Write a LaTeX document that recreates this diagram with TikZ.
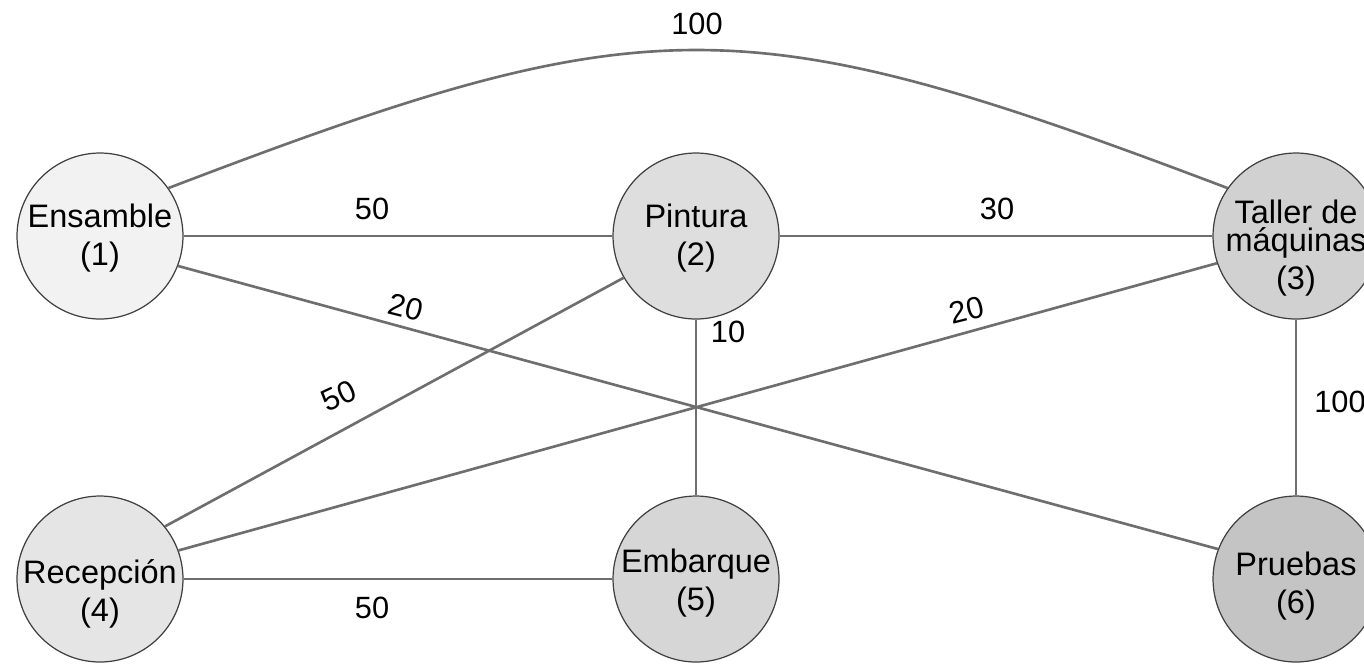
\documentclass[tikz,border=0pt]{standalone}
\usepackage{fontspec}
\setmainfont{Liberation Sans}
\begin{document}
\begin{tikzpicture}[x=0.02cm,y=-0.02cm,
  station/.style={circle, draw=black!75, line width=0.7pt, minimum size=3.32cm, inner sep=0pt},
  stname/.style={align=center, font=\fontsize{18.5}{22}\selectfont, inner sep=0pt},
  flow/.style={draw=black!57, line width=1.5pt},
  qty/.style={font=\fontsize{17.5}{20}\selectfont, inner sep=0pt}]
\useasboundingbox (0,0) rectangle (1364,664);

% departments
\node[station, fill=black!5]  (n1) at (100,236) {};
\node[station, fill=black!13] (n2) at (696,236) {};
\node[station, fill=black!18] (n3) at (1296,236) {};
\node[station, fill=black!10] (n4) at (100,579) {};
\node[station, fill=black!16] (n5) at (696,579) {};
\node[station, fill=black!23] (n6) at (1296,579) {};

% flows between departments
\draw[flow] (n1.35) .. controls (650,4) and (742,4) .. (n3.145);
\draw[flow] (n1.east) -- (n2.west);
\draw[flow] (n2.east) -- (n3.west);
\draw[flow] (n1.-21) -- (n6.159);
\draw[flow] (n4.39) -- (n2.210);
\draw[flow] (n4.20) -- (n3.199);
\draw[flow] (n2.south) -- (n5.north);
\draw[flow] (n3.south) -- (n6.north);
\draw[flow] (n4.east) -- (n5.west);

% department names
\node[stname] (t1) at (100,238) {Ensamble\\(1)};
\node[stname] (t2) at (696,238) {Pintura\\(2)};
\node[stname] (t3) at (1296,248) {Taller de\\[-6pt]máquinas\\(3)};
\node[stname] (t4) at (100,594) {Recepción\\(4)};
\node[stname] (t5) at (696,583) {Embarque\\(5)};
\node[stname] (t6) at (1296,586) {Pruebas\\(6)};

% flow quantities
\node[qty] (w13) at (697,24) {100};
\node[qty] (w12) at (372,209) {50};
\node[qty] (w23) at (997,209) {30};
\node[qty, rotate=-14] (w16) at (406,307) {20};
\node[qty, rotate=14] (w43) at (967,310) {20};
\node[qty, rotate=25] (w42) at (339,396) {50};
\node[qty] (w25) at (728,332) {10};
\node[qty] (w36) at (1340,402) {100};
\node[qty] (w45) at (372,608) {50};
\end{tikzpicture}
\end{document}
